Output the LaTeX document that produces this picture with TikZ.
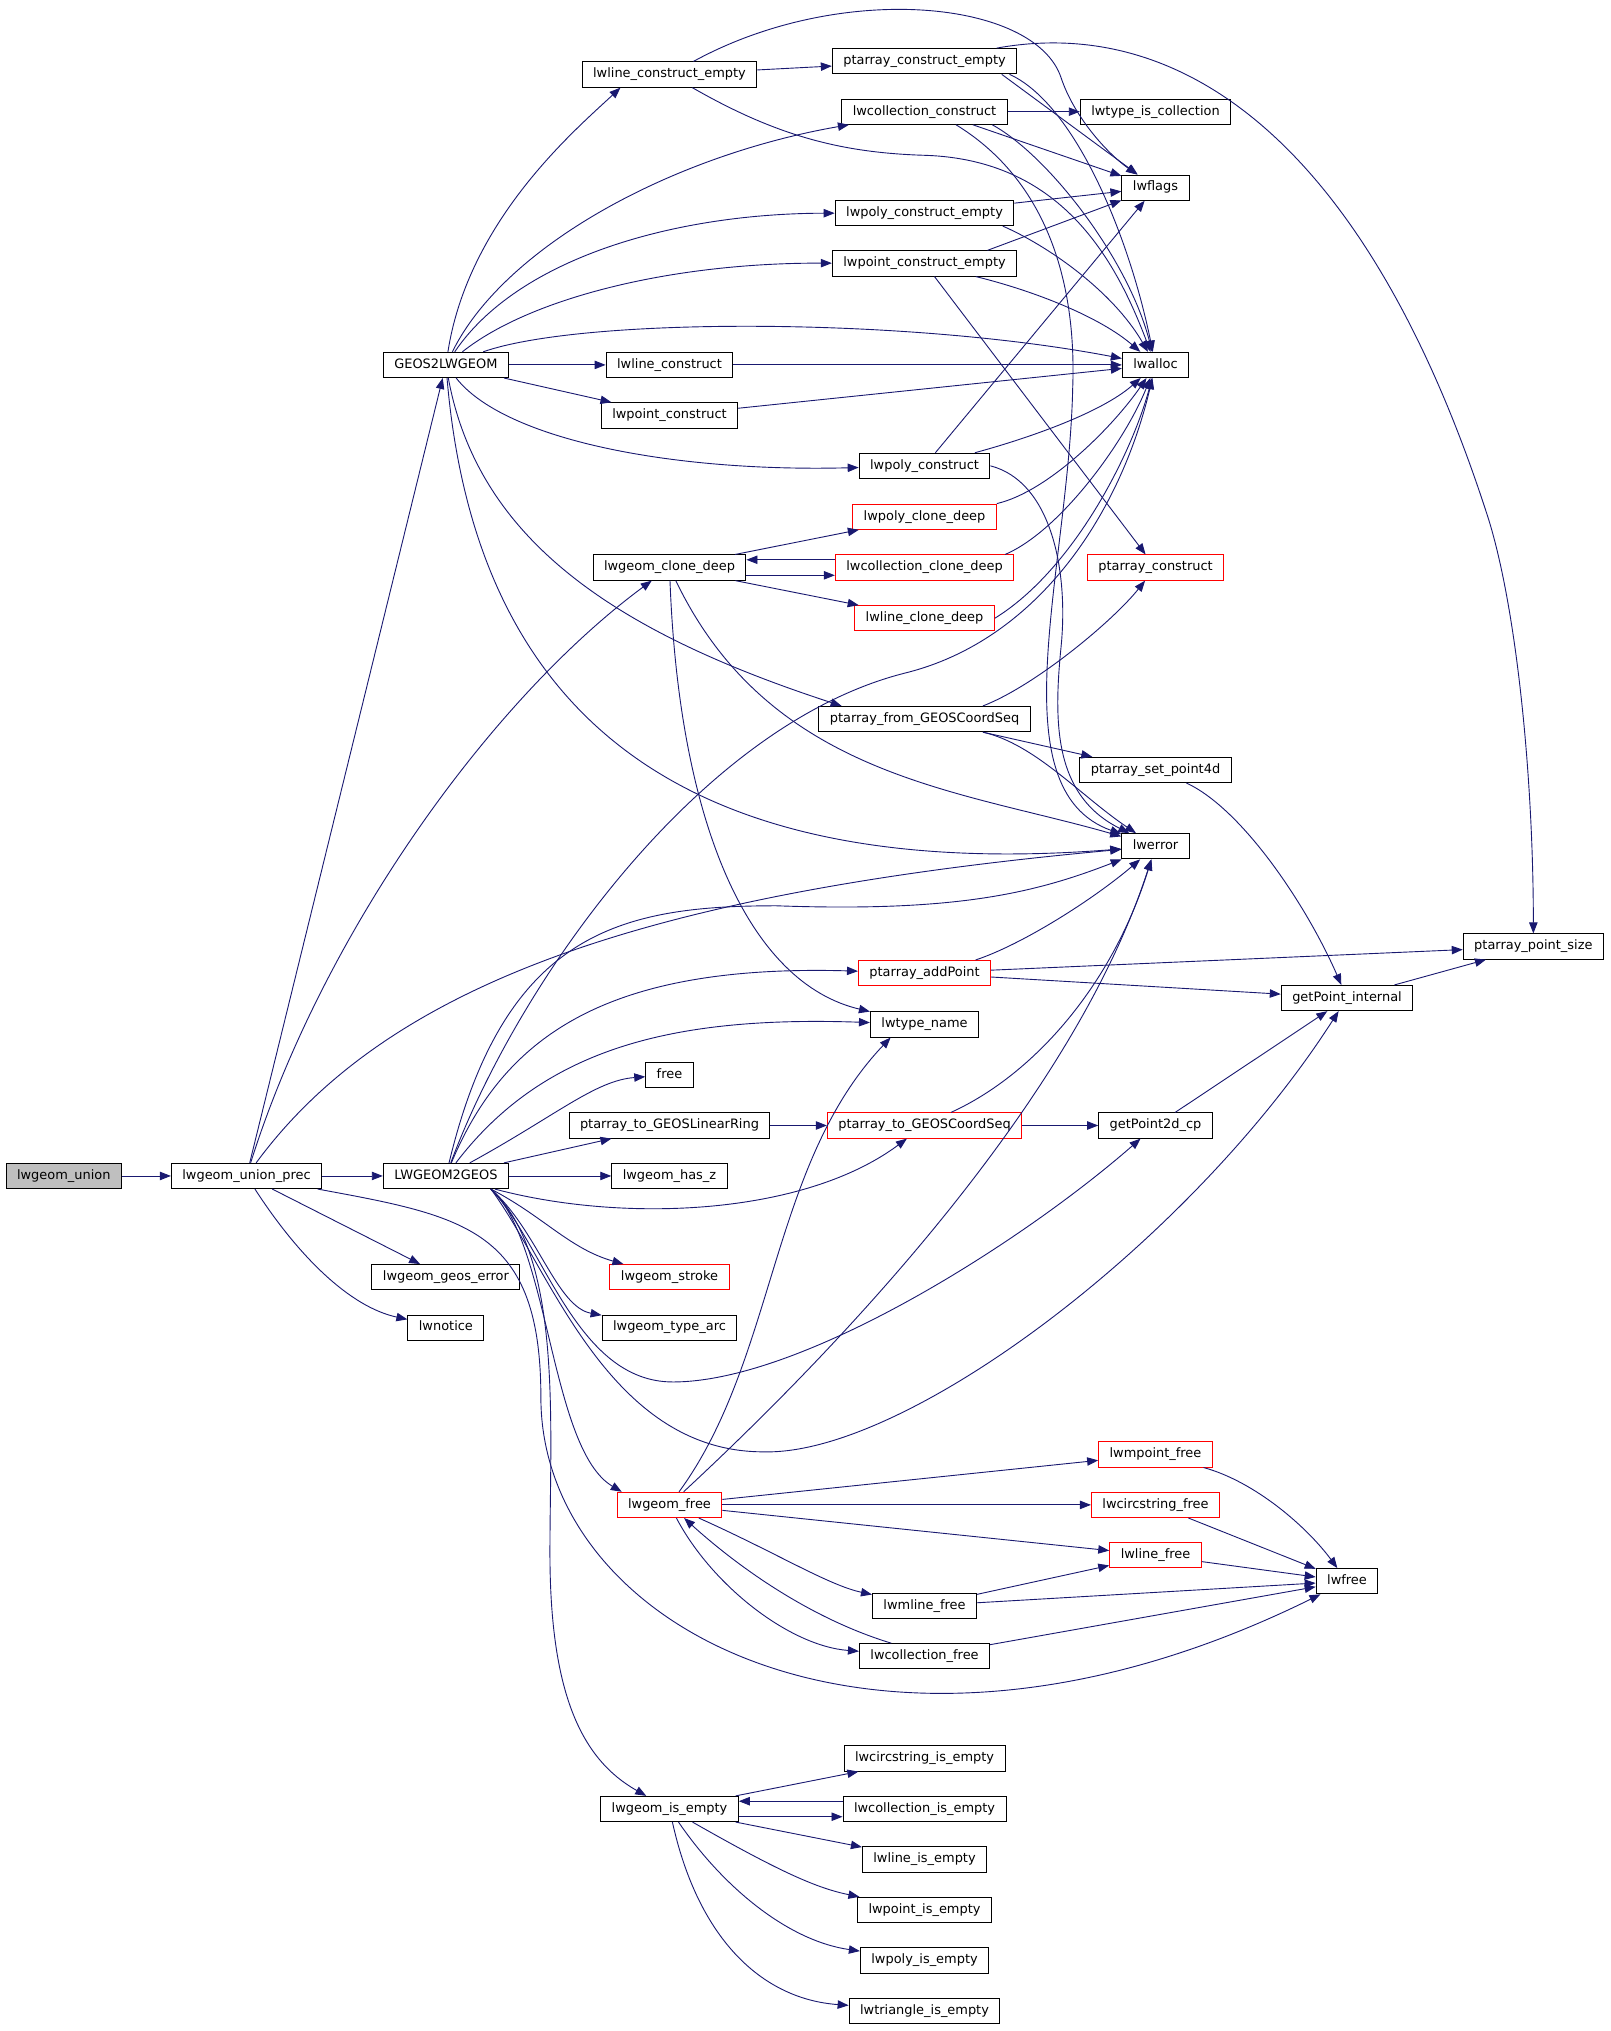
\documentclass[tikz,border=0pt]{standalone}
\usepackage{fontspec}
\setmainfont{DejaVu Sans}
\usetikzlibrary{arrows.meta}
\definecolor{callblue}{RGB}{25,25,112}
\definecolor{rootgray}{RGB}{191,191,191}
\begin{document}
\begin{tikzpicture}[x=1pt,y=-1pt,>={Triangle[length=8.5pt,width=6.5pt]},
  fn/.style={draw=black, line width=.75pt, fill=white, inner xsep=8.5pt, inner ysep=0pt,
    minimum height=19.5pt, text height=7.6pt, text depth=2.4pt, font=\fontsize{10}{12}\selectfont},
  fnred/.style={fn, draw=red},
  fnroot/.style={fn, fill=rootgray},
  call/.style={callblue, line width=.7pt, ->}]
\useasboundingbox (0,0) rectangle (1245,1569.6);
\node[fnroot] (union) at (49.3,908.8) {lwgeom\_union};
\node[fn] (prec) at (190.5,908.8) {lwgeom\_union\_prec};
\node[fn] (l2g) at (344.6,908.8) {LWGEOM2GEOS};
\node[fn] (g2l) at (344.6,282) {GEOS2LWGEOM};
\node[fn] (geoserr) at (344.6,987) {lwgeom\_geos\_error};
\node[fn] (notice) at (344.6,1026) {lwnotice};
\node[fn] (lcempty) at (517.4,57.6) {lwline\_construct\_empty};
\node[fn] (pacempty) at (714.5,47.3) {ptarray\_construct\_empty};
\node[fn] (colcons) at (714.5,86.3) {lwcollection\_construct};
\node[fn] (typeiscol) at (893,86.3) {lwtype\_is\_collection};
\node[fn] (flags) at (893,145) {lwflags};
\node[fn] (polyce) at (714.5,164.6) {lwpoly\_construct\_empty};
\node[fn] (pointce) at (714.5,203.6) {lwpoint\_construct\_empty};
\node[fn] (linecons) at (517.4,282) {lwline\_construct};
\node[fn] (alloc) at (893,282) {lwalloc};
\node[fn] (pointcons) at (517.4,321) {lwpoint\_construct};
\node[fn] (polycons) at (714.5,360) {lwpoly\_construct};
\node[fnred] (polyclone) at (714.5,399.3) {lwpoly\_clone\_deep};
\node[fn] (clone) at (517.4,438.6) {lwgeom\_clone\_deep};
\node[fnred] (colclone) at (714.5,438.6) {lwcollection\_clone\_deep};
\node[fnred] (pacons) at (893,438.6) {ptarray\_construct};
\node[fnred] (lineclone) at (714.5,477.8) {lwline\_clone\_deep};
\node[fn] (pafromgeos) at (714.5,555.7) {ptarray\_from\_GEOSCoordSeq};
\node[fn] (setpt) at (893,595) {ptarray\_set\_point4d};
\node[fn] (error) at (893,654) {lwerror};
\node[fnred] (addpt) at (714.5,752) {ptarray\_addPoint};
\node[fn] (ptsize) at (1185,731.5) {ptarray\_point\_size};
\node[fn] (getpt) at (1041,771.3) {getPoint\_internal};
\node[fn] (typename) at (714.5,791.7) {lwtype\_name};
\node[fn] (free) at (517.4,830.7) {free};
\node[fn] (linearring) at (517.4,869.8) {ptarray\_to\_GEOSLinearRing};
\node[fnred] (tocoord) at (714.5,869.8) {ptarray\_to\_GEOSCoordSeq};
\node[fn] (getpt2d) at (893,869.8) {getPoint2d\_cp};
\node[fn] (hasz) at (517.4,908.8) {lwgeom\_has\_z};
\node[fnred] (stroke) at (517.4,987) {lwgeom\_stroke};
\node[fn] (typearc) at (517.4,1026) {lwgeom\_type\_arc};
\node[fnred] (mpointfree) at (893,1124) {lwmpoint\_free};
\node[fnred] (geomfree) at (517.4,1163) {lwgeom\_free};
\node[fnred] (circfree) at (893,1163) {lwcircstring\_free};
\node[fnred] (linefree) at (893,1202) {lwline\_free};
\node[fn] (lwfree) at (1041,1222) {lwfree};
\node[fn] (mlinefree) at (714.5,1241) {lwmline\_free};
\node[fn] (colfree) at (714.5,1280) {lwcollection\_free};
\node[fn] (circempty) at (714.5,1359) {lwcircstring\_is\_empty};
\node[fn] (isempty) at (517.4,1398) {lwgeom\_is\_empty};
\node[fn] (colempty) at (714.5,1398) {lwcollection\_is\_empty};
\node[fn] (lineempty) at (714.5,1437) {lwline\_is\_empty};
\node[fn] (pointempty) at (714.5,1476) {lwpoint\_is\_empty};
\node[fn] (polyempty) at (714.5,1515) {lwpoly\_is\_empty};
\node[fn] (triempty) at (714.5,1554) {lwtriangle\_is\_empty};
\coordinate (l2gfoot) at ([xshift=-14pt]l2g.south east);
\foreach \src/\dst in {union/prec, prec/l2g, prec/g2l, prec/geoserr, g2l/linecons, g2l/pointcons,
  lcempty/pacempty, colcons/typeiscol, polyce/flags, pointce/pacons, polycons/flags,
  linecons/alloc, pointcons/alloc, clone/polyclone, clone/lineclone, addpt/ptsize, addpt/getpt,
  getpt/ptsize, getpt2d/getpt, l2g/linearring, l2g/hasz, linearring/tocoord, tocoord/getpt2d,
  geomfree/mpointfree, geomfree/circfree, geomfree/linefree, circfree/lwfree, linefree/lwfree,
  mlinefree/linefree, mlinefree/lwfree, colfree/lwfree, isempty/circempty, isempty/lineempty}
  \draw[call] (\src) -- (\dst);
\draw[call] (g2l) .. controls (362,170) and (445,100) .. ([xshift=30pt]lcempty.south west);
\draw[call] (g2l) .. controls (390,190) and (520,120) .. (colcons);
\draw[call] (g2l) .. controls (400,200) and (520,165) .. (polyce);
\draw[call] (g2l) .. controls (410,230) and (520,203) .. (pointce);
\draw[call] (g2l) .. controls (450,245) and (700,245) .. (alloc);
\draw[call] (g2l) .. controls (390,340) and (520,365) .. (polycons);
\draw[call] (g2l) .. controls (370,420) and (480,490) .. ([xshift=18pt]pafromgeos.north west);
\draw[call] (g2l) .. controls (370,580) and (560,680) .. (error);
\draw[call] (prec) .. controls (250,720) and (380,540) .. (clone);
\draw[call] (prec) .. controls (300,760) and (500,690) .. (error);
\draw[call] (prec) .. controls (230,970) and (270,1010) .. (notice);
\draw[call] (prec) .. controls (360,940) and (418,950) .. (418,1080) .. controls (418,1260) and (680,1400) .. (lwfree);
\draw[call] (l2g) .. controls (400,760) and (540,560) .. (700,520) .. controls (800,495) and (865,400) .. (alloc);
\draw[call] (l2g) .. controls (390,720) and (480,700) .. (600,700) .. controls (740,705) and (800,690) .. (error);
\draw[call] (l2g) .. controls (390,800) and (470,745) .. (addpt);
\draw[call] (l2g) .. controls (420,810) and (520,785) .. (typename);
\draw[call] (l2g) .. controls (430,862) and (460,835) .. (free);
\draw[call] (l2g) .. controls (480,945) and (620,940) .. (tocoord);
\draw[call] (l2gfoot) .. controls (420,940) and (440,965) .. (stroke);
\draw[call] (l2gfoot) .. controls (415,950) and (430,1010) .. (typearc);
\draw[call] (l2gfoot) .. controls (420,960) and (445,1068) .. (520,1068) .. controls (620,1068) and (790,960) .. (getpt2d);
\draw[call] (l2gfoot) .. controls (425,980) and (470,1122) .. (590,1122) .. controls (700,1125) and (920,960) .. (getpt);
\draw[call] (l2gfoot) .. controls (425,960) and (425,1120) .. ([xshift=4pt]geomfree.north west);
\draw[call] (l2gfoot) .. controls (435,970) and (425,1100) .. (425,1200) .. controls (425,1310) and (450,1360) .. (isempty);
\draw[call] (lcempty) .. controls (650,-15) and (800,0) .. (820,60) .. controls (830,90) and (855,118) .. (flags);
\draw[call] (lcempty) .. controls (600,105) and (650,118) .. (714,120) .. controls (820,123) and (862,200) .. (alloc);
\draw[call] (pacempty) .. controls (920,10) and (1060,120) .. (1150,400) .. controls (1172,470) and (1185,600) .. (ptsize);
\draw[call] ([xshift=-12pt]pacempty.south east) -- (flags);
\draw[call] ([xshift=-6pt]pacempty.south east) .. controls (830,80) and (872,180) .. (alloc);
\draw[call] ([xshift=-27pt]colcons.south east) -- (flags);
\draw[call] ([xshift=-12pt]colcons.south east) .. controls (810,120) and (872,200) .. (alloc);
\draw[call] ([xshift=-40pt]colcons.south east) .. controls (810,140) and (832,220) .. (829,300) .. controls (826,440) and (770,610) .. (error);
\draw[call] ([xshift=-9pt]polyce.south east) .. controls (810,190) and (860,225) .. (alloc);
\draw[call] ([xshift=-23pt]pointce.north east) -- (flags);
\draw[call] ([xshift=-32pt]pointce.south east) .. controls (800,225) and (850,245) .. (alloc);
\draw[call] ([xshift=-12pt]polycons.north east) .. controls (790,340) and (850,320) .. (alloc);
\draw[call] (polycons.east) .. controls (812,372) and (826,440) .. (820,500) .. controls (814,560) and (815,615) .. (error);
\draw[call] (polyclone.north east) .. controls (810,380) and (860,330) .. (alloc);
\draw[call] ([xshift=-7pt]colclone.north east) .. controls (820,410) and (870,340) .. (alloc);
\draw[call] (lineclone.east) .. controls (830,440) and (875,350) .. (alloc);
\draw[call] ([yshift=-6pt]clone.east) -- ([yshift=-6pt]colclone.west);
\draw[call] ([yshift=6pt]colclone.west) -- ([yshift=6pt]clone.east);
\draw[call] (clone) .. controls (595,600) and (740,610) .. (error);
\draw[call] (clone) .. controls (525,640) and (580,760) .. (typename);
\draw[call] ([xshift=-37pt]pafromgeos.north east) .. controls (800,530) and (860,480) .. (pacons);
\draw[call] ([xshift=-37pt]pafromgeos.south east) -- ([xshift=10pt]setpt.north west);
\draw[call] ([xshift=-37pt]pafromgeos.south east) .. controls (800,575) and (835,615) .. (error);
\draw[call] ([xshift=-35pt]setpt.south east) .. controls (960,625) and (1010,700) .. (getpt);
\draw[call] ([xshift=-12pt]addpt.north east) .. controls (790,730) and (845,695) .. (error);
\draw[call] ([xshift=-55pt]tocoord.north east) .. controls (800,830) and (860,760) .. (error);
\draw[call] (geomfree) .. controls (600,1200) and (640,1225) .. (mlinefree);
\draw[call] (geomfree) .. controls (550,1225) and (610,1272) .. (colfree);
\draw[call] ([xshift=25pt]colfree.north west) .. controls (630,1252) and (575,1215) .. (geomfree);
\draw[call] (geomfree) .. controls (650,1040) and (830,850) .. (error);
\draw[call] (geomfree) .. controls (600,1050) and (595,900) .. ([xshift=16pt]typename.south west);
\draw[call] (mpointfree) .. controls (970,1145) and (1010,1180) .. (lwfree);
\draw[call] ([yshift=-6pt]isempty.east) -- ([yshift=-6pt]colempty.west);
\draw[call] ([yshift=6pt]colempty.west) -- ([yshift=6pt]isempty.east);
\draw[call] (isempty) .. controls (600,1445) and (630,1459) .. (pointempty);
\draw[call] (isempty) .. controls (560,1460) and (610,1500) .. (polyempty);
\draw[call] (isempty) .. controls (540,1500) and (590,1545) .. (triempty);
\end{tikzpicture}
\end{document}
